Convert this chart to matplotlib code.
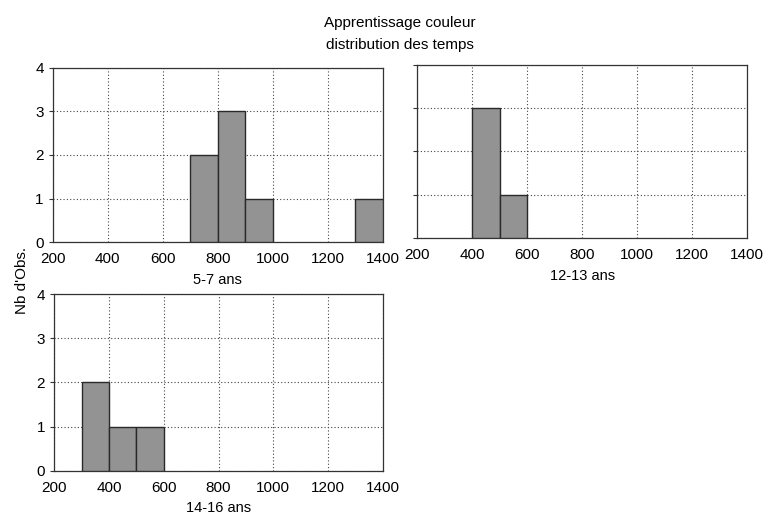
import matplotlib
matplotlib.use("Agg")
import matplotlib.pyplot as plt

plt.rcParams['font.family'] = ['Liberation Sans', 'DejaVu Sans']

# Data: histogram bins (left edges) and counts
bin_width = 100
bins_5_7 = [700, 800, 900, 1300]
counts_5_7 = [2, 3, 1, 1]
bins_12_13 = [400, 500]
counts_12_13 = [3, 1]
bins_14_16 = [300, 400, 500]
counts_14_16 = [2, 1, 1]

x_ticks = [200, 400, 600, 800, 1000, 1200, 1400]
y_ticks = [0, 1, 2, 3, 4]

fig = plt.figure(figsize=(7.64, 5.14), dpi=100)

panels = [
    ([0.069, 0.529, 0.432, 0.339], bins_5_7, counts_5_7, "5-7 ans", True),
    ([0.546, 0.537, 0.432, 0.337], bins_12_13, counts_12_13, "12-13 ans", False),
    ([0.071, 0.084, 0.430, 0.344], bins_14_16, counts_14_16, "14-16 ans", True),
]

for rect, bins, counts, label, ylab in panels:
    ax = fig.add_axes(rect)
    ax.bar(bins, counts, width=bin_width, align='edge', color='#939393',
           edgecolor='#2a2a2a', linewidth=1.0, zorder=3)
    ax.set_xlim(200, 1400)
    ax.set_ylim(0, 4)
    ax.set_xticks(x_ticks)
    ax.set_yticks(y_ticks)
    if not ylab:
        ax.set_yticklabels([])
    ax.grid(True, linestyle=(0, (1, 2)), color='#444444', linewidth=0.8, zorder=0)
    ax.tick_params(axis='both', labelsize=11, length=3, color='#333333')
    ax.tick_params(axis='x', length=0, pad=7)
    ax.set_xlabel(label, fontsize=10.5, labelpad=5)
    for s in ax.spines.values():
        s.set_color('#333333')
        s.set_linewidth(0.9)

fig.text(0.523, 0.955, "Apprentissage couleur", ha='center', va='center', fontsize=11)
fig.text(0.523, 0.913, "distribution des temps", ha='center', va='center', fontsize=11)
fig.text(0.029, 0.455, "Nb d'Obs.", rotation=90, ha='center', va='center', fontsize=11)

fig.savefig("out.png", dpi=100)
